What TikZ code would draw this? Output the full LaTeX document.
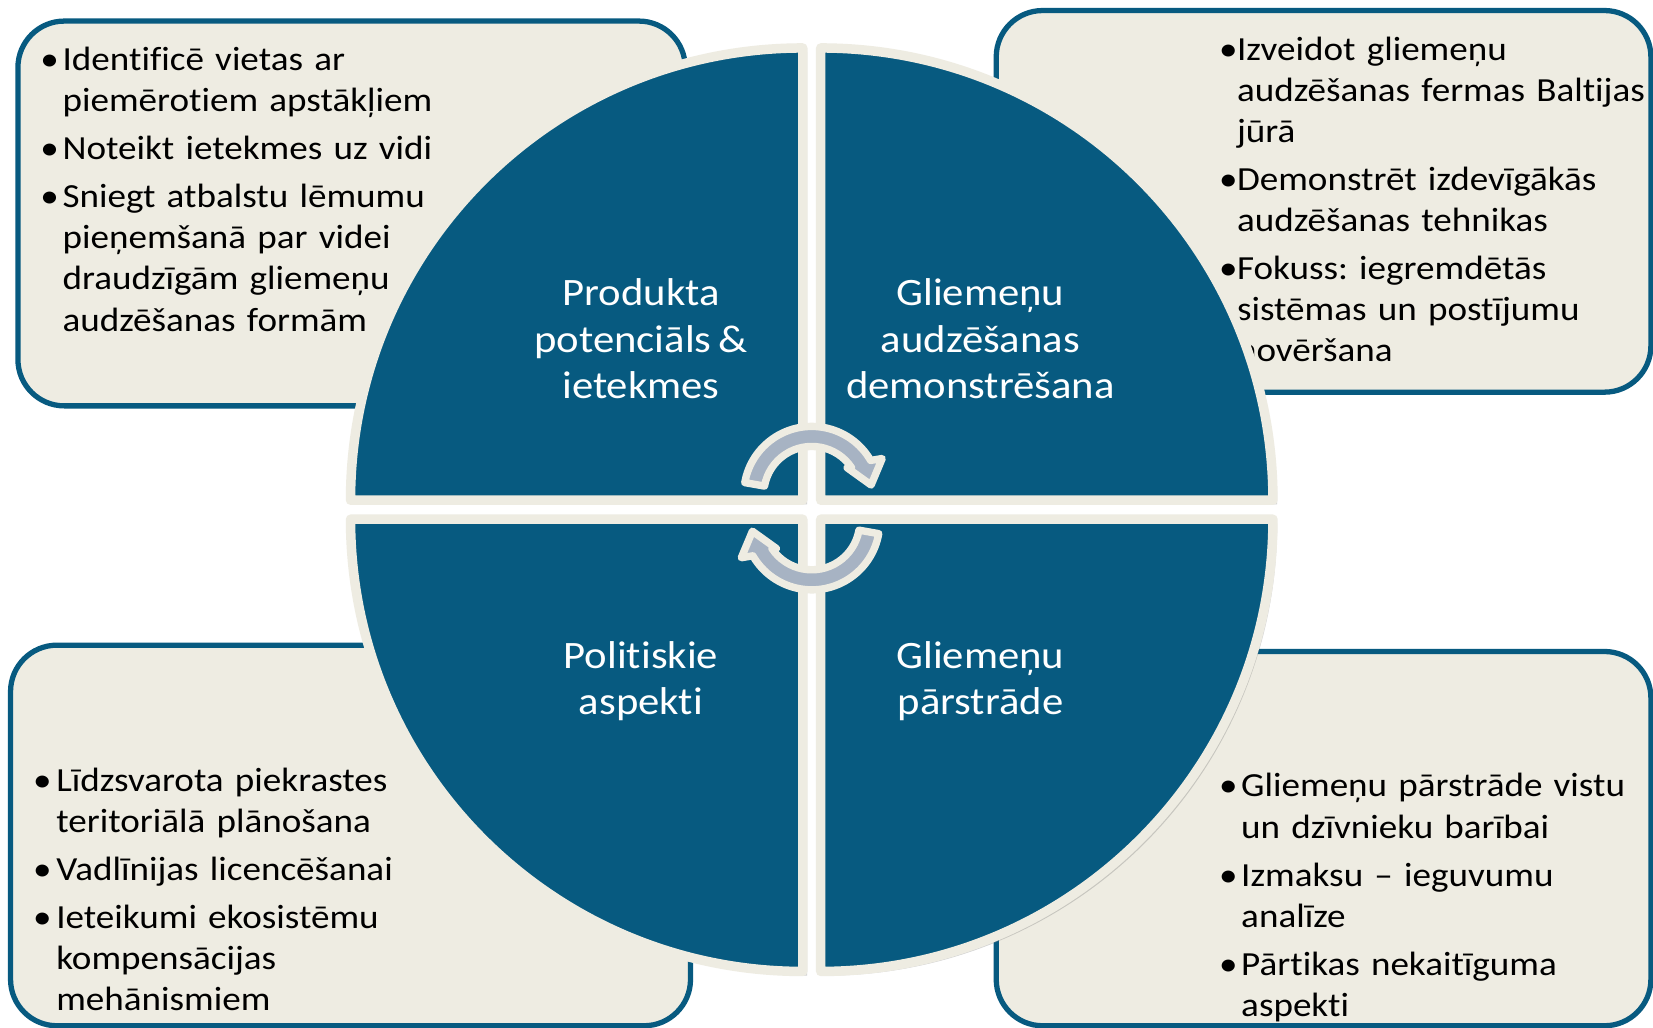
\documentclass[tikz,border=0pt]{standalone}
\usepackage{fontspec}
\setmainfont{Carlito}[FakeStretch=1.1, WordSpace=0.7, Ligatures=NoCommon]
\usetikzlibrary{shadows}
\definecolor{qblue}{RGB}{7,90,128}
\definecolor{cream}{RGB}{238,236,226}
\definecolor{arrowgray}{RGB}{167,179,195}
\frenchspacing
\newlength{\bulw}
\setlength{\bulw}{10pt}
\newcommand{\pitem}[1]{\hangindent=\bulw\hangafter=1\noindent\makebox[\bulw][l]{\textbullet}#1\par}

\begin{document}
\begin{tikzpicture}[x=0.5pt,y=0.5pt,
    infobox/.style={draw=qblue, fill=cream, line width=2.5pt, rounded corners=22pt},
    boxtext/.style={anchor=base west, inner sep=0pt, text width=260pt, align=left,
      font=\fontsize{16}{19.5}\selectfont,
      execute at begin node={\setlength{\parskip}{3.25pt}\setlength{\bulw}{#1}}},
    boxtext/.default=10.5pt,
    quarter/.style={fill=qblue, draw=cream, line width=4.5pt, line join=round,
      drop shadow={shadow xshift=2pt, shadow yshift=-2pt, opacity=0.35}},
    qlabel/.style={text=white, align=center, anchor=base, font=\fontsize{18.4}{22}\selectfont},
    turnarrow/.style={fill=arrowgray, draw=cream, line width=3.5pt, line join=round,
      drop shadow={shadow xshift=1pt, shadow yshift=-1pt, opacity=0.3}}
  ]
  \fill[white] (0,0) rectangle (1568,975);
  \useasboundingbox (0,0) rectangle (1568,975);

  % text boxes behind the wheel
  \draw[infobox] (17,955) rectangle (650,590);
  \draw[infobox] (945,965) rectangle (1566,603);
  \draw[infobox] (10,363) rectangle (655,2);
  \draw[infobox] (945,357) rectangle (1566,2);

  \node[boxtext] (impacts) at (38,908) {\pitem{Identificē vietas ar\newline piemērotiem apstākļiem}\pitem{Noteikt ietekmes uz vidi}\pitem{Sniegt atbalstu lēmumu\newline pieņemšanā par videi\newline draudzīgām gliemeņu\newline audzēšanas formām}};
  \node[boxtext=8.5pt] (farming) at (1156,918) {\pitem{Izveidot gliemeņu\newline audzēšanas fermas Baltijas\newline jūrā}\pitem{Demonstrēt izdevīgākās\newline audzēšanas tehnikas}\pitem{Fokuss: iegremdētās\newline sistēmas un postījumu\newline novēršana}};
  \node[boxtext=11pt] (policy) at (31,224) {\pitem{Līdzsvarota piekrastes\newline teritoriālā plānošana}\pitem{Vadlīnijas licencēšanai}\pitem{Ieteikumi ekosistēmu\newline kompensācijas\newline mehānismiem}};
  \node[boxtext] (processing) at (1156,219) {\pitem{Gliemeņu pārstrāde vistu\newline un dzīvnieku barībai}\pitem{Izmaksu – ieguvumu\newline analīze}\pitem{Pārtikas nekaitīguma\newline aspekti}};

  % the wheel
  \foreach \cx/\cy/\a in {761.5/500.5/90, 778.5/500.5/0, 761.5/482.5/180, 778.5/482.5/270}
    \draw[quarter] (\cx,\cy) -- ++(\a:429) arc[start angle=\a, delta angle=90, radius=429] -- cycle;

  \node[qlabel] (prodlbl) at (608,597) {Produkta\\potenciāls \&\\ietekmes};
  \node[qlabel] (demolbl) at (930,597) {Gliemeņu\\audzēšanas\\demonstrēšana};
  \node[qlabel] (polilbl) at (608,297) {Politiskie\\aspekti};
  \node[qlabel] (proclbl) at (930,297) {Gliemeņu\\pārstrāde};

  \coordinate (topc) at (770,506);
  \coordinate (botc) at (770,480);
  \foreach \c/\a in {topc/0, botc/180}
    \draw[turnarrow, shift={(\c)}] (\a+170:64.5) arc[start angle=\a+170, end angle=\a+30, radius=64.5]
      -- (\a+27:75) -- (\a+9:57) -- (\a+37:42) -- (\a+34:45.5)
      arc[start angle=\a+34, end angle=\a+170, radius=45.5] -- cycle;
\end{tikzpicture}
\end{document}
